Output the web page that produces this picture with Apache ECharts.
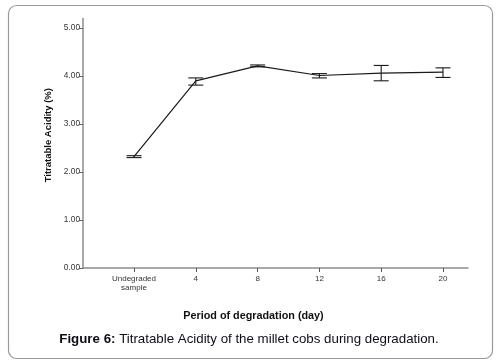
<!DOCTYPE html>
<html><head><meta charset="utf-8">
<script src="https://cdn.jsdelivr.net/npm/echarts@6/dist/echarts.min.js"></script>
<style>html,body{margin:0;padding:0;background:#fff}#c{width:498px;height:363px}</style>
</head><body><div id="c"></div>
<script>
var categories = ['Undegraded\nsample', '4', '8', '12', '16', '20'];
var meanValues = [2.32, 3.90, 4.21, 4.01, 4.06, 4.08];
var lowerValues = [2.30, 3.81, 4.19, 3.96, 3.90, 3.97];
var upperValues = [2.34, 3.96, 4.23, 4.05, 4.22, 4.17];
var yTickValues = [0, 1, 2, 3, 4, 5];
var yTicks = ['0.00', '1.00', '2.00', '3.00', '4.00', '5.00'];

var errData = categories.map(function (c, i) { return [i, lowerValues[i], upperValues[i]]; });
var chart = echarts.init(document.getElementById('c'), null, {renderer: 'canvas'});
var font = 'Liberation Sans, Arial, sans-serif';
chart.setOption({
  animation: false,
  backgroundColor: '#fff',
  graphic: [{
    type: 'rect', left: 6, top: 3, shape: {width: 484, height: 353, r: 8},
    style: {fill: 'none', stroke: '#9a9a9a', lineWidth: 1.2}, silent: true
  }],
  title: {
    text: '{b|Figure 6:} Titratable Acidity of the millet cobs during degradation.',
    left: 'center', top: 328,
    textStyle: {rich: {b: {fontWeight: 'bold', fontSize: 13.3, fontFamily: font, color: '#0d0d1a'}},
      fontSize: 13.3, fontWeight: 'normal', fontFamily: font, color: '#0d0d1a'}
  },
  grid: [
    {left: 83, right: 30, top: 18.4, bottom: 95},
    {left: 103.1, right: 24.1, top: 18.4, bottom: 95}
  ],
  xAxis: [
    {gridIndex: 0, type: 'value', min: 0, max: 1, axisLine: {show: true, lineStyle: {color: '#8c8c8c', width: 1.5}},
     axisTick: {show: false}, axisLabel: {show: false}, splitLine: {show: false},
     name: 'Period of degradation (day)', nameLocation: 'middle', nameGap: 43,
     nameTextStyle: {fontFamily: font, fontWeight: 'bold', fontSize: 10.8, color: '#111', padding: [0, 44, 0, 0]}},
    {gridIndex: 1, type: 'category', data: categories, boundaryGap: true,
     axisLine: {show: false}, axisTick: {show: true, alignWithLabel: true, length: 4, lineStyle: {color: '#555'}},
     axisLabel: {fontFamily: font, fontSize: 8, color: '#333', margin: 6, lineHeight: 9, interval: 0}}
  ],
  yAxis: [
    {gridIndex: 0, type: 'value', min: 0, max: 5.2,
     axisLine: {show: true, lineStyle: {color: '#8c8c8c', width: 1.5}},
     axisTick: {show: true, length: 4, lineStyle: {color: '#666'}, customValues: yTickValues},
     axisLabel: {fontFamily: font, fontSize: 8.3, color: '#333', margin: 3, customValues: yTickValues,
       formatter: function (v) { var k = Math.round(v); return yTicks[k] !== undefined ? yTicks[k] : ''; }},
     splitLine: {show: false},
     name: 'Titratable Acidity (%)', nameLocation: 'middle', nameGap: 22,
     nameTextStyle: {fontFamily: font, fontWeight: 'bold', fontSize: 9.5, color: '#111', padding: [0, 0, 0, 16]}},
    {gridIndex: 1, type: 'value', min: 0, max: 5.2, interval: 1, show: false}
  ],
  series: [
    {type: 'line', xAxisIndex: 1, yAxisIndex: 1, data: meanValues, symbol: 'none',
     lineStyle: {color: '#1a1a1a', width: 1.2}, z: 3},
    {type: 'custom', xAxisIndex: 1, yAxisIndex: 1, data: errData, z: 4,
     renderItem: function (params, api) {
       var x = api.value(0);
       var lo = api.coord([x, api.value(1)]);
       var hi = api.coord([x, api.value(2)]);
       var hw = 7.5;
       var st = {stroke: '#1a1a1a', lineWidth: 1.1};
       return {type: 'group', children: [
         {type: 'line', shape: {x1: lo[0], y1: lo[1], x2: hi[0], y2: hi[1]}, style: st},
         {type: 'line', shape: {x1: lo[0] - hw, y1: lo[1], x2: lo[0] + hw, y2: lo[1]}, style: st},
         {type: 'line', shape: {x1: hi[0] - hw, y1: hi[1], x2: hi[0] + hw, y2: hi[1]}, style: st}
       ]};
     }}
  ]
});
</script></body></html>
